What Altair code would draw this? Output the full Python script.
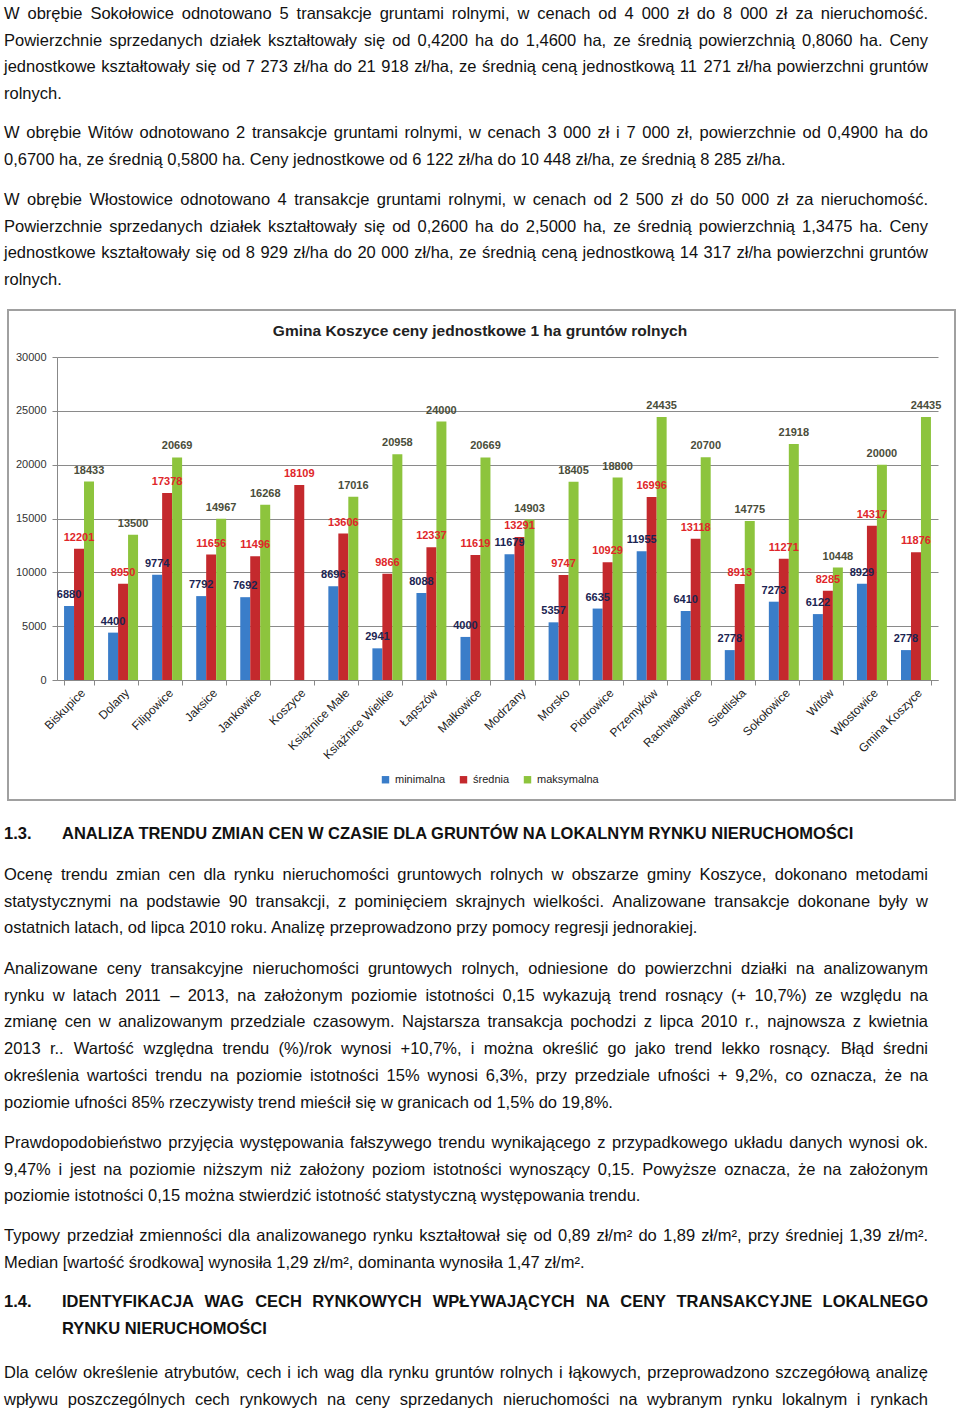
import altair as alt
import pandas as pd

# ---------------- data ----------------
categories = ["Biskupice", "Dolany", "Filipowice", "Jaksice", "Jankowice", "Koszyce",
              "Książnice Małe", "Książnice Wielkie", "Łapszów", "Małkowice", "Modrzany",
              "Morsko", "Piotrowice", "Przemyków", "Rachwałowice", "Siedliska",
              "Sokołowice", "Witów", "Włostowice", "Gmina Koszyce"]
min_vals = [6880, 4400, 9774, 7792, 7692, None, 8696, 2941, 8088, 4000, 11679,
            5357, 6635, 11955, 6410, 2778, 7273, 6122, 8929, 2778]
mean_vals = [12201, 8950, 17378, 11656, 11496, 18109, 13606, 9866, 12337, 11619, 13291,
             9747, 10929, 16996, 13118, 8913, 11271, 8285, 14317, 11876]
max_vals = [18433, 13500, 20669, 14967, 16268, None, 17016, 20958, 24000, 20669, 14903,
            18405, 18800, 24435, 20700, 14775, 21918, 10448, 20000, 24435]
series_names = ["minimalna", "średnia", "maksymalna"]
y_ticks = [0, 5000, 10000, 15000, 20000, 25000, 30000]
chart_title = "Gmina Koszyce ceny jednostkowe 1 ha gruntów rolnych"

top_paragraphs = [
    ["W obrębie Sokołowice odnotowano 5 transakcje gruntami rolnymi, w cenach od 4 000 zł do 8 000 zł za nieruchomość.",
     "Powierzchnie sprzedanych działek kształtowały się od 0,4200 ha do 1,4600 ha, ze średnią powierzchnią 0,8060 ha. Ceny",
     "jednostkowe kształtowały się od 7 273 zł/ha do 21 918 zł/ha, ze średnią ceną jednostkową 11 271 zł/ha powierzchni gruntów",
     "rolnych."],
    ["W obrębie Witów odnotowano 2 transakcje gruntami rolnymi, w cenach 3 000 zł i 7 000 zł, powierzchnie od 0,4900 ha do",
     "0,6700 ha, ze średnią 0,5800 ha. Ceny jednostkowe od 6 122 zł/ha do 10 448 zł/ha, ze średnią 8 285 zł/ha."],
    ["W obrębie Włostowice odnotowano 4 transakcje gruntami rolnymi, w cenach od 2 500 zł do 50 000 zł za nieruchomość.",
     "Powierzchnie sprzedanych działek kształtowały się od 0,2600 ha do 2,5000 ha, ze średnią powierzchnią 1,3475 ha. Ceny",
     "jednostkowe kształtowały się od 8 929 zł/ha do 20 000 zł/ha, ze średnią ceną jednostkową 14 317 zł/ha powierzchni gruntów",
     "rolnych."],
]
heading_13_num = "1.3."
heading_13 = ["ANALIZA TRENDU ZMIAN CEN W CZASIE DLA GRUNTÓW NA LOKALNYM RYNKU NIERUCHOMOŚCI"]
bottom_paragraphs = [
    ["Ocenę trendu zmian cen dla rynku nieruchomości gruntowych rolnych w obszarze gminy Koszyce, dokonano metodami",
     "statystycznymi na podstawie 90 transakcji, z pominięciem skrajnych wielkości. Analizowane transakcje dokonane były w",
     "ostatnich latach, od lipca 2010 roku. Analizę przeprowadzono przy pomocy regresji jednorakiej."],
    ["Analizowane ceny transakcyjne nieruchomości gruntowych rolnych, odniesione do powierzchni działki na analizowanym",
     "rynku w latach 2011 – 2013, na założonym poziomie istotności 0,15 wykazują trend rosnący (+ 10,7%) ze względu na",
     "zmianę cen w analizowanym przedziale czasowym. Najstarsza transakcja pochodzi z lipca 2010 r., najnowsza z kwietnia",
     "2013 r.. Wartość względna trendu (%)/rok wynosi +10,7%, i można określić go jako trend lekko rosnący. Błąd średni",
     "określenia wartości trendu na poziomie istotności 15% wynosi 6,3%, przy przedziale ufności + 9,2%, co oznacza, że na",
     "poziomie ufności 85% rzeczywisty trend mieścił się w granicach od 1,5% do 19,8%."],
    ["Prawdopodobieństwo przyjęcia występowania fałszywego trendu wynikającego z przypadkowego układu danych wynosi ok.",
     "9,47% i jest na poziomie niższym niż założony poziom istotności wynoszący 0,15. Powyższe oznacza, że na założonym",
     "poziomie istotności 0,15 można stwierdzić istotność statystyczną występowania trendu."],
    ["Typowy przedział zmienności dla analizowanego rynku kształtował się od 0,89 zł/m² do 1,89 zł/m², przy średniej 1,39 zł/m².",
     "Median [wartość środkowa] wynosiła 1,29 zł/m², dominanta wynosiła  1,47 zł/m²."],
]
heading_14_num = "1.4."
heading_14 = ["IDENTYFIKACJA WAG CECH RYNKOWYCH WPŁYWAJĄCYCH NA CENY TRANSAKCYJNE LOKALNEGO",
              "RYNKU NIERUCHOMOŚCI"]
last_paragraph = ["Dla celów określenie atrybutów, cech i ich wag dla rynku gruntów rolnych i łąkowych, przeprowadzono szczegółową analizę",
                  "wpływu poszczególnych cech rynkowych na ceny sprzedanych nieruchomości na wybranym rynku lokalnym i rynkach"]

# ---------------- layout / style ----------------
PL, PT, PW, PH = 57, 357, 881, 323      # plot area left/top/width/height on page
PAGE_W, PAGE_H = 960, 1411
FONT = "Liberation Sans, Arial, sans-serif"
LINE_H = 26.7
TEXT_L, TEXT_R = 4, 928
HEAD_L = 62
bar_colors = ["#3a7dc9", "#c4292d", "#8dc43d"]
label_colors = ["#1b2452", "#e0262a", "#4a4d3a"]

# Arial / Liberation Sans advance widths (1/1000 em) for justification
_REG = dict(zip(" !\"#$%&'()*+,-./0123456789:;<=>?@",
                [278, 278, 355, 556, 556, 889, 667, 191, 333, 333, 389, 584, 278, 333, 278, 278]
                + [556] * 10 + [278, 278, 584, 584, 584, 556, 1015]))
_REG.update(zip("ABCDEFGHIJKLMNOPQRSTUVWXYZ",
                [667, 667, 722, 722, 667, 611, 778, 722, 278, 500, 667, 556, 833, 722, 778,
                 667, 778, 722, 667, 611, 722, 667, 944, 667, 667, 611]))
_REG.update(zip("abcdefghijklmnopqrstuvwxyz",
                [556, 556, 500, 556, 556, 278, 556, 556, 222, 222, 500, 222, 833, 556, 556,
                 556, 556, 333, 500, 278, 556, 500, 722, 500, 500, 500]))
_REG.update({"[": 278, "]": 278, "–": 556, "²": 333})
_BOLD = dict(_REG)
_BOLD.update(zip("ABCDEFGHIJKLMNOPQRSTUVWXYZ",
                 [722, 722, 722, 722, 667, 611, 778, 722, 278, 556, 722, 611, 833, 722, 778,
                  667, 778, 722, 667, 611, 722, 667, 944, 667, 667, 611]))
_BOLD.update({".": 278, " ": 278})
_BASE = str.maketrans("ąćęłńóśźżĄĆĘŁŃÓŚŹŻ", "acelnoszzACELNOSZZ")


def tw(s, size, bold=False):
    table = _BOLD if bold else _REG
    return sum(table.get(ch, 556) for ch in s.translate(_BASE)) * size / 1000.0


BODY_SIZE = 16.5
HEAD_SIZE = 16.5


def place(lines, x0, x1, y0, justify_last, size, bold=False):
    out = []
    for i, line in enumerate(lines):
        y = y0 + i * LINE_H
        last = i == len(lines) - 1
        if last and not justify_last:
            out.append({"t": line, "px": x0, "py": y})
            continue
        words = line.split(" ")
        widths = [tw(w, size, bold) for w in words]
        gap = (x1 - x0 - sum(widths)) / max(len(words) - 1, 1)
        x = x0
        for w, wd in zip(words, widths):
            out.append({"t": w, "px": x, "py": y})
            x += wd + gap
    return pd.DataFrame(out)


body_parts = []
for lines, by in zip(top_paragraphs, [19, 138, 205]):
    body_parts.append(place(lines, TEXT_L, TEXT_R, by, False, BODY_SIZE))
for lines, by in zip(bottom_paragraphs, [880, 974, 1148, 1241]):
    body_parts.append(place(lines, TEXT_L, TEXT_R, by, False, BODY_SIZE))
body_parts.append(place(last_paragraph, TEXT_L, TEXT_R, 1378, True, BODY_SIZE))
body_df = pd.concat(body_parts, ignore_index=True)

bold_df = pd.concat([
    place([heading_13_num], TEXT_L, TEXT_R, 839, False, HEAD_SIZE, True),
    place(heading_13, HEAD_L, TEXT_R, 839, False, HEAD_SIZE, True),
    place([heading_14_num], TEXT_L, TEXT_R, 1307, False, HEAD_SIZE, True),
    place(heading_14, HEAD_L, TEXT_R, 1307, False, HEAD_SIZE, True),
], ignore_index=True)

page_x = alt.X("px:Q", axis=None,
               scale=alt.Scale(domain=[0, PAGE_W], range=[-PL, PAGE_W - PL], nice=False, zero=False))
page_y = alt.Y("py:Q", axis=None,
               scale=alt.Scale(domain=[0, PAGE_H], range=[-PT, PAGE_H - PT], nice=False, zero=False))

body_layer = alt.Chart(body_df).mark_text(
    font=FONT, fontSize=BODY_SIZE, color="#111", align="left", baseline="alphabetic"
).encode(x=page_x, y=page_y, text="t:N")
bold_layer = alt.Chart(bold_df).mark_text(
    font=FONT, fontSize=HEAD_SIZE, fontWeight="bold", color="#111", align="left",
    baseline="alphabetic"
).encode(x=page_x, y=page_y, text="t:N")

# ---------------- bar chart ----------------
rows = []
for s, vals in zip(series_names, [min_vals, mean_vals, max_vals]):
    for c, v in zip(categories, vals):
        if v is not None:
            rows.append({"kat": c, "seria": s, "wartosc": v})
df = pd.DataFrame(rows)

x_enc = alt.X("kat:N", sort=categories, title=None,
              scale=alt.Scale(domain=categories, paddingInner=0.32, paddingOuter=0.16),
              axis=alt.Axis(labelAngle=-45, labelAlign="right", labelBaseline="top",
                            labelFont=FONT, labelFontSize=12, labelColor="#222",
                            tickBand="extent", tickSize=5, tickColor="#888",
                            domainColor="#888", labelPadding=2))
xo_enc = alt.XOffset("seria:N", sort=series_names,
                     scale=alt.Scale(domain=series_names, paddingInner=0, paddingOuter=0))
y_enc = alt.Y("wartosc:Q", title=None,
              scale=alt.Scale(domain=[0, 30000], nice=False),
              axis=alt.Axis(values=y_ticks, format="d", labelFont=FONT, labelFontSize=11,
                            labelColor="#333", gridColor="#8a8a8a", gridWidth=1,
                            domainColor="#888", tickColor="#888", tickSize=5,
                            labelPadding=6))

bars = alt.Chart(df).mark_bar().encode(
    x=x_enc, xOffset=xo_enc, y=y_enc,
    color=alt.Color("seria:N", sort=series_names,
                    scale=alt.Scale(domain=series_names, range=bar_colors),
                    legend=alt.Legend(orient="none", legendX=323, legendY=417,
                                      direction="horizontal", title=None,
                                      symbolType="square", symbolSize=55,
                                      symbolStrokeWidth=0,
                                      labelFont=FONT, labelFontSize=11,
                                      labelColor="#222", columnPadding=12))
)

labels = []
for s, col in zip(series_names, label_colors):
    labels.append(
        alt.Chart(df[df.seria == s]).mark_text(
            font=FONT, fontSize=11, fontWeight="bold", color=col,
            baseline="alphabetic", dy=-8
        ).encode(x=x_enc, xOffset=xo_enc, y=y_enc, text=alt.Text("wartosc:Q", format="d"))
    )

bar_chart = alt.layer(bars, *labels)

frame = alt.Chart(pd.DataFrame({"f": [0]})).mark_rect(
    filled=False, stroke="#a0a0a0", strokeWidth=2
).encode(x=alt.value(8 - PL), x2=alt.value(955 - PL),
         y=alt.value(310 - PT), y2=alt.value(800 - PT))

title_layer = alt.Chart(pd.DataFrame({"t": [chart_title]})).mark_text(
    font=FONT, fontSize=15.5, fontWeight="bold", color="#222", align="center",
    baseline="alphabetic"
).encode(x=alt.value(480 - PL), y=alt.value(336 - PT), text="t:N")

chart = alt.layer(frame, bar_chart, title_layer, body_layer, bold_layer).resolve_scale(
    x="independent", y="independent"
).properties(
    width=PW, height=PH,
    autosize=alt.AutoSizeParams(type="none"),
    padding={"left": PL, "top": PT, "right": PAGE_W - PL - PW, "bottom": PAGE_H - PT - PH},
    background="white",
).configure_view(stroke=None)

chart.save("out.html", embed_options={"renderer": "svg", "actions": False})
